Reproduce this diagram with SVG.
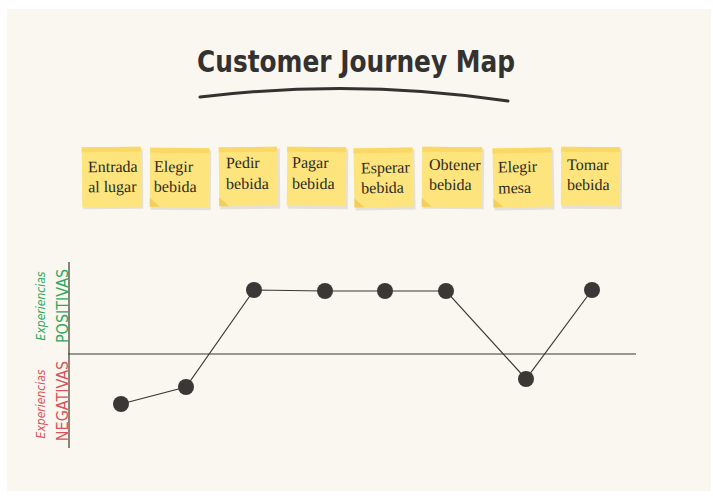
<svg xmlns="http://www.w3.org/2000/svg" width="713" height="498" viewBox="0 0 713 498">
<defs>
<style>
.note{fill:#fde47c}
.band{fill:#fad865}
.shadow{fill:#d9d4c8;opacity:0.6}
.fold{fill:#f2cf5c}
.nt{font-family:"Liberation Serif",serif;font-size:16px;fill:#2b2a26}
.dot{fill:#3a3836}
.lbls{font-family:"DejaVu Sans Condensed","DejaVu Sans",sans-serif;font-size:12px;font-style:italic}
.lblb{font-family:"DejaVu Sans Condensed","DejaVu Sans",sans-serif;font-size:16px}
</style>
</defs>
<rect x="7" y="9" width="704" height="482" fill="#faf6f0"/>
<g id="title">
<text x="356" y="72" text-anchor="middle" font-family="'DejaVu Sans Condensed','DejaVu Sans',sans-serif" font-size="31" font-weight="bold" fill="#333230" textLength="318" lengthAdjust="spacingAndGlyphs">Customer Journey Map</text>
<path d="M200 97 Q355 78 508 101" fill="none" stroke="#333230" stroke-width="3" stroke-linecap="round"/>
</g>
<g id="note1" transform="rotate(-0.5 111 177)">
<rect class="shadow" x="83" y="149" width="60" height="60"/>
<rect class="note" x="82" y="147" width="59" height="60"/>
<rect class="band" x="82" y="147" width="59" height="5"/>
<text class="nt" x="88" y="172">Entrada</text><text class="nt" x="88" y="192">al lugar</text>
</g>
<g id="note2" transform="rotate(0.5 180 177)">
<rect class="shadow" x="151" y="150" width="60" height="60"/>
<rect class="note" x="150" y="148" width="59" height="59"/>
<rect class="band" x="150" y="148" width="59" height="5"/>
<path class="fold" d="M150 198 L150 207 L160 207 Z"/>
<text class="nt" x="154" y="172">Elegir</text><text class="nt" x="154" y="192">bebida</text>
</g>
<g id="note3" transform="rotate(-0.5 248 177)">
<rect class="shadow" x="220" y="149" width="60" height="60"/>
<rect class="note" x="219" y="147" width="58" height="59"/>
<rect class="band" x="219" y="147" width="58" height="5"/>
<path class="fold" d="M219 197 L219 206 L229 206 Z"/>
<text class="nt" x="226" y="168">Pedir</text><text class="nt" x="226" y="189">bebida</text>
</g>
<g id="note4" transform="rotate(0.5 316 177)">
<rect class="shadow" x="288" y="149" width="60" height="60"/>
<rect class="note" x="287" y="147" width="59" height="59"/>
<rect class="band" x="287" y="147" width="59" height="5"/>
<text class="nt" x="292" y="168">Pagar</text><text class="nt" x="292" y="189">bebida</text>
</g>
<g id="note5" transform="rotate(-1 383 177)">
<rect class="shadow" x="355" y="150" width="60" height="60"/>
<rect class="note" x="354" y="148" width="59" height="59"/>
<rect class="band" x="354" y="148" width="59" height="5"/>
<path class="fold" d="M354 198 L354 207 L364 207 Z"/>
<text class="nt" x="361" y="173">Esperar</text><text class="nt" x="361" y="193">bebida</text>
</g>
<g id="note6" transform="rotate(0.5 452 177)">
<rect class="shadow" x="423" y="149" width="61" height="60"/>
<rect class="note" x="422" y="147" width="60" height="60"/>
<rect class="band" x="422" y="147" width="60" height="5"/>
<path class="fold" d="M422 198 L422 207 L432 207 Z"/>
<text class="nt" x="429" y="170">Obtener</text><text class="nt" x="429" y="190">bebida</text>
</g>
<g id="note7" transform="rotate(-1 522 177)">
<rect class="shadow" x="494" y="150" width="60" height="60"/>
<rect class="note" x="493" y="148" width="59" height="59"/>
<rect class="band" x="493" y="148" width="59" height="5"/>
<path class="fold" d="M493 198 L493 207 L503 207 Z"/>
<text class="nt" x="498" y="172">Elegir</text><text class="nt" x="498" y="193">mesa</text>
</g>
<g id="note8" transform="rotate(0.3 590 177)">
<rect class="shadow" x="562" y="149" width="60" height="60"/>
<rect class="note" x="561" y="147" width="59" height="59"/>
<rect class="band" x="561" y="147" width="59" height="5"/>
<text class="nt" x="567" y="170">Tomar</text><text class="nt" x="567" y="190">bebida</text>
</g>
<g id="axes">
<line x1="69" y1="262" x2="69" y2="448" stroke="#8a8677" stroke-width="2"/>
<line x1="68" y1="354" x2="636" y2="354" stroke="#3a3836" stroke-width="1.2"/>
<text class="lbls" transform="translate(45,306) rotate(-90)" text-anchor="middle" fill="#2fa862">Experiencias</text>
<text class="lblb" transform="translate(68,306) rotate(-90)" text-anchor="middle" fill="#2fa862">POSITIVAS</text>
<text class="lbls" transform="translate(45,404) rotate(-90)" text-anchor="middle" fill="#d9535a">Experiencias</text>
<text class="lblb" transform="translate(68,401) rotate(-90)" text-anchor="middle" fill="#d9535a">NEGATIVAS</text>
</g>
<g id="connectors" fill="none" stroke="#3a3836" stroke-width="1.2">
<polyline points="121,404 186,387 254,290 325,291 385,291 446,291 526,379 592,290"/>
</g>
<g id="p1"><circle class="dot" cx="121" cy="404" r="8"/></g>
<g id="p2"><circle class="dot" cx="186" cy="387" r="8"/></g>
<g id="p3"><circle class="dot" cx="254" cy="290" r="8"/></g>
<g id="p4"><circle class="dot" cx="325" cy="291" r="8"/></g>
<g id="p5"><circle class="dot" cx="385" cy="291" r="8"/></g>
<g id="p6"><circle class="dot" cx="446" cy="291" r="8"/></g>
<g id="p7"><circle class="dot" cx="526" cy="379" r="8"/></g>
<g id="p8"><circle class="dot" cx="592" cy="290" r="8"/></g>
</svg>
